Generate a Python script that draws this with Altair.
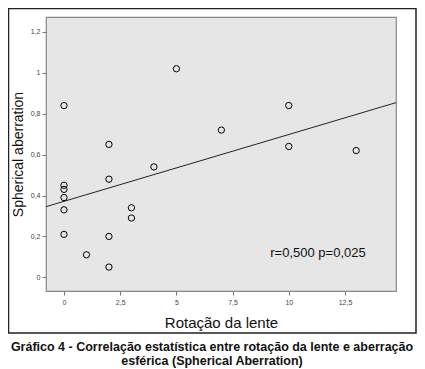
import altair as alt
import pandas as pd

# data
rotacao = [0, 0, 0, 0, 0, 0, 1, 2, 2, 2, 2, 3, 3, 4, 5, 7, 10, 10, 13]
aberracao = [0.84, 0.45, 0.43, 0.39, 0.33, 0.21, 0.11, 0.65, 0.48, 0.20, 0.05,
             0.34, 0.29, 0.54, 1.02, 0.72, 0.84, 0.64, 0.62]
x_ticks = [0, 2.5, 5, 7.5, 10, 12.5]
y_ticks = [0, 0.2, 0.4, 0.6, 0.8, 1.0, 1.2]
annotation = ["r=0,500 p=0,025"]
annotation_x = [11.3]
annotation_y = [0.117]
caption = ["Gráfico 4 - Correlação estatística entre rotação da lente e aberração",
           "esférica (Spherical Aberration)"]

df = pd.DataFrame({"x": rotacao, "y": aberracao})
ann = pd.DataFrame({"x": annotation_x, "y": annotation_y, "t": annotation})

X_DOM = [-0.8, 14.77]
Y_DOM = [-0.067, 1.273]

comma = "replace(format(datum.value, ''), '.', ',')"

xs = alt.Scale(domain=X_DOM, nice=False, zero=False)
ys = alt.Scale(domain=Y_DOM, nice=False, zero=False)

x_axis = alt.Axis(values=x_ticks, labelExpr=comma, title="Rotação da lente",
                  grid=False, domain=False, tickSize=4, tickColor="#777",
                  labelFontSize=7, labelColor="#444", labelPadding=3,
                  titleFontSize=15, titleFontWeight="normal", titlePadding=10,
                  titleColor="#111")
y_axis = alt.Axis(values=y_ticks, labelExpr=comma, title="Spherical aberration",
                  grid=False, domain=False, tickSize=4, tickColor="#777",
                  labelFontSize=7, labelColor="#444", labelPadding=2,
                  titleFontSize=14, titleFontWeight="normal", titlePadding=5,
                  titleColor="#111")

points = alt.Chart(df).mark_point(shape="circle", filled=False, color="black",
                                  size=40, strokeWidth=1, opacity=1).encode(
    x=alt.X("x:Q", scale=xs, axis=x_axis),
    y=alt.Y("y:Q", scale=ys, axis=y_axis),
)

line = alt.Chart(df).transform_regression("x", "y", extent=X_DOM).mark_line(
    color="#222", strokeWidth=1).encode(
    x=alt.X("x:Q", scale=xs),
    y=alt.Y("y:Q", scale=ys),
)

text = alt.Chart(ann).mark_text(fontSize=13, color="#111", font="Liberation Sans").encode(
    x=alt.X("x:Q", scale=xs),
    y=alt.Y("y:Q", scale=ys),
    text="t:N",
)

box = alt.Chart(pd.DataFrame({"a": [0]})).mark_rect(
    fillOpacity=0, stroke="#222", strokeWidth=1.5).encode(
    x=alt.value(-37.5), x2=alt.value(370), y=alt.value(-8.5), y2=alt.value(316))

cap1 = alt.Chart(pd.DataFrame({"a": [0]})).mark_text(
    fontSize=12.5, fontWeight="bold", font="Liberation Sans", color="#111",
    baseline="alphabetic").encode(
    x=alt.value(166), y=alt.value(334), text=alt.value(caption[0]))
cap2 = alt.Chart(pd.DataFrame({"a": [0]})).mark_text(
    fontSize=12.5, fontWeight="bold", font="Liberation Sans", color="#111",
    baseline="alphabetic").encode(
    x=alt.value(166), y=alt.value(347.5), text=alt.value(caption[1]))

chart = alt.layer(line, points, text, box, cap1, cap2).properties(
    width=350, height=274,
    autosize=alt.AutoSizeParams(type="none"),
    padding={"left": 38, "top": 9, "right": 21, "bottom": 79},
).configure(font="Liberation Sans", background="white"
).configure_view(fill="#e6e6e6", stroke="#888", strokeWidth=1.2)

chart.save("out.html", embed_options={"renderer": "svg", "actions": False})
